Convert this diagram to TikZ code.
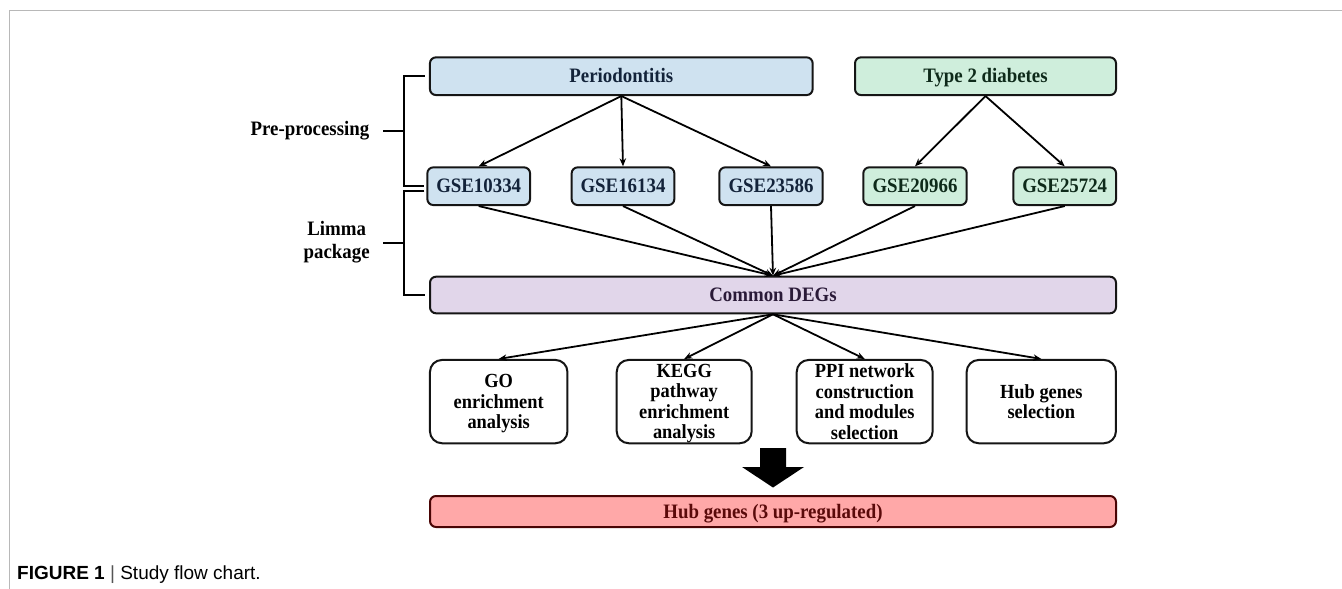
\documentclass[tikz,border=0pt]{standalone}
\usepackage{fontspec}
\setmainfont{Liberation Serif}[FakeStretch=0.92]
\newfontfamily\capfont{Liberation Sans}
\usetikzlibrary{arrows.meta}
\definecolor{periFill}{HTML}{CFE2F0}
\definecolor{periText}{HTML}{13233A}
\definecolor{tdFill}{HTML}{CFEEDC}
\definecolor{tdText}{HTML}{0E2A1A}
\definecolor{degFill}{HTML}{E1D6EA}
\definecolor{degText}{HTML}{2A1A38}
\definecolor{hubFill}{HTML}{FFA8A8}
\definecolor{hubLine}{HTML}{4A0505}
\definecolor{hubText}{HTML}{5A0A0A}
\definecolor{boxLine}{HTML}{151515}
\definecolor{frameGray}{HTML}{B8B8B8}
\definecolor{capGray}{HTML}{555555}
\begin{document}
\begin{tikzpicture}[x=1pt,y=-1pt,
  box/.style={draw=boxLine, line width=2pt, rounded corners=6pt, inner sep=0pt,
    font=\fontsize{20.5}{22}\selectfont\bfseries, align=center, anchor=center},
  oneline/.style={text height=13pt, text depth=0pt},
  topbox/.style={box, oneline, minimum height=37.7pt},
  blue/.style={topbox, fill=periFill, text=periText},
  green/.style={topbox, fill=tdFill, text=tdText},
  taskbox/.style={box, fill=white, rounded corners=12pt, minimum height=83.3pt,
    text depth=0pt, font=\fontsize{20}{20.5}\selectfont\bfseries},
  conn/.style={line width=1.8pt, -{Stealth[length=8pt,width=6.5pt]}},
  bracket/.style={line width=2.4pt},
  lbl/.style={font=\fontsize{20.5}{23}\selectfont\bfseries, inner sep=0pt, align=center}
]
\useasboundingbox (0,0) rectangle (1342,589);
\draw[frameGray, line width=1.5pt] (9.3,589) -- (9.3,10.7) -- (1342,10.7);

% top row
\node[blue, minimum width=382.7pt] (peri) at (621.3,76.2) {Periodontitis};
\node[green, minimum width=261pt] (t2d) at (985.5,76.2) {Type 2 diabetes};

% datasets
\node[blue, minimum width=102.7pt] (g1) at (478.7,186.2) {GSE10334};
\node[blue, minimum width=102.7pt] (g2) at (623,186.2) {GSE16134};
\node[blue, minimum width=103.4pt] (g3) at (771,186.2) {GSE23586};
\node[green, minimum width=103.4pt] (g4) at (915,186.2) {GSE20966};
\node[green, minimum width=102.7pt] (g5) at (1064.7,186.2) {GSE25724};

% common DEGs
\node[box, oneline, fill=degFill, text=degText, minimum width=686pt, minimum height=36.6pt] (deg) at (773,295) {Common DEGs};

% analyses
\node[taskbox, minimum width=137.5pt] (go) at (498.7,401.6) {GO\\enrichment\\analysis};
\node[taskbox, minimum width=135pt] (kegg) at (684.2,401.6) {KEGG\\pathway\\enrichment\\analysis};
\node[taskbox, minimum width=136pt] (ppi) at (864.7,401.6) {PPI network\\construction\\and modules\\selection};
\node[taskbox, minimum width=149.3pt] (hubsel) at (1041.3,401.6) {Hub genes\\selection};

% hub genes
\node[box, oneline, fill=hubFill, draw=hubLine, text=hubText, minimum width=686pt, minimum height=31pt] (hub) at (773,511.5) {Hub genes (3 up-regulated)};

% connectors
\draw[conn] (peri.south) -- (g1.north);
\draw[conn] (peri.south) -- (g2.north);
\draw[conn] (peri.south) -- (g3.north);
\draw[conn] (t2d.south) -- (g4.north);
\draw[conn] (t2d.south) -- (g5.north);
\foreach \g in {g1,g2,g3,g4,g5}{\draw[conn] (\g.south) -- (deg.north);}
\foreach \t in {go,kegg,ppi,hubsel}{\draw[conn] (deg.south) -- (\t.north);}

% big arrow
\fill[black] (760,448) -- (786,448) -- (786,467) -- (804,467) -- (773,487.5) -- (742,467) -- (760,467) -- cycle;

% side labels and brackets
\node[lbl, anchor=east] (pre) at (369.5,131) {Pre-processing};
\node[lbl] (lim) at (336.7,242.5) {Limma\\package};
\coordinate (b1) at (404,131);
\coordinate (b2) at (404,243);
\draw[bracket] ([xshift=-4pt]peri.west) -| (b1) |- ([xshift=-2pt]g1.west);
\draw[bracket] ([xshift=-2pt,yshift=-5pt]g1.west) -| (b2) |- ([xshift=-4pt]deg.west);
\draw[bracket] ([xshift=13.5pt]pre.east) -- (b1);
\draw[bracket] (383,243) -- (b2);

% caption
\node[anchor=west, inner sep=0pt, font=\capfont\fontsize{19}{21}\selectfont] (cap) at (17,575)
  {\textbf{FIGURE 1}\ \textcolor{capGray}{|}\ Study flow chart.};
\end{tikzpicture}
\end{document}
